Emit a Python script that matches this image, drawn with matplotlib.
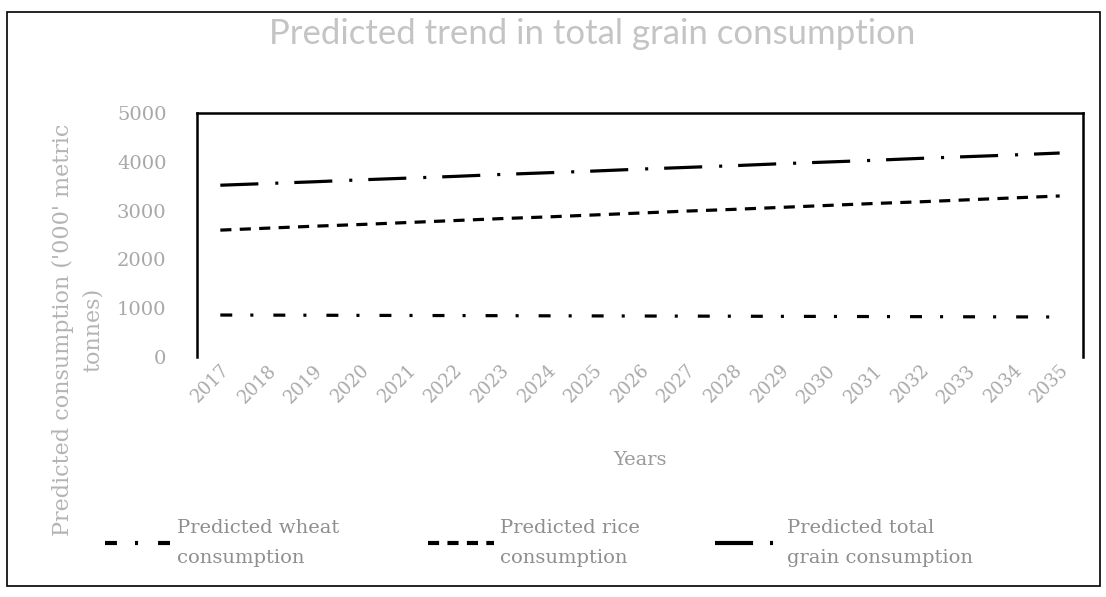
import numpy as np
import matplotlib.pyplot as plt
from matplotlib.lines import Line2D
from matplotlib.patches import Rectangle

plt.rcParams['lines.scale_dashes'] = False

# Projected consumption, '000 metric tonnes
years = [str(y) for y in range(2017, 2036)]
wheat = [860, 858, 856, 853, 851, 849, 847, 844, 842, 840,
         838, 836, 833, 831, 829, 827, 824, 822, 820]
rice = [2600, 2640, 2680, 2715, 2755, 2795, 2835, 2870, 2910, 2950,
        2990, 3025, 3065, 3105, 3145, 3180, 3220, 3260, 3300]
total = [3520, 3555, 3590, 3630, 3665, 3700, 3740, 3775, 3810, 3850,
         3885, 3920, 3960, 3995, 4030, 4070, 4105, 4140, 4180]
series_names = ['Predicted wheat\nconsumption',
                'Predicted rice\nconsumption',
                'Predicted total\ngrain consumption']
yticks = [0, 1000, 2000, 3000, 4000, 5000]

W, H = 1106, 597
fig = plt.figure(figsize=(W / 100, H / 100), dpi=100)

def box(l, t, r, b):
    return [l / W, 1 - b / H, (r - l) / W, (b - t) / H]

ax = fig.add_axes(box(197, 113, 1083, 357))

serif = 'DejaVu Serif'
grey = '#a8a8a8'

x = np.arange(len(years))
styles = [(0, (8.6, 13, 2.2, 14.4)),
          (0, (8, 6)),
          (0, (27.4, 12.2, 2.2, 11.5))]
for vals, ls in zip([wheat, rice, total], styles):
    ax.plot(x, vals, color='black', lw=2.3, linestyle=ls, solid_capstyle='butt')

ax.set_xlim(-0.5, len(years) - 0.5)
ax.set_ylim(0, 5000)
ax.set_yticks(yticks)
ax.set_yticklabels([str(v) for v in yticks], fontfamily=serif, fontsize=14, color=grey)
ax.set_xticks(x)
ax.set_xticklabels(years, rotation=45, ha='right', va='top', rotation_mode='anchor',
                   fontfamily=serif, fontsize=13, color=grey)
ax.tick_params(axis='both', length=0)
ax.tick_params(axis='y', pad=22)
ax.tick_params(axis='x', pad=3)
for side in ['left', 'right', 'top']:
    ax.spines[side].set_color('black')
    ax.spines[side].set_linewidth(1.8)
ax.spines['bottom'].set_visible(False)

fig.text(592 / W, 1 - 34 / H, 'Predicted trend in total grain consumption',
         ha='center', va='center', fontfamily='Lato', fontsize=25, color='#c4c4c4')
fig.text(640 / W, 1 - 460 / H, 'Years', ha='center', va='center',
         fontfamily=serif, fontsize=14, color='#9a9a9a')
fig.text(78 / W, 1 - 330 / H, "Predicted consumption ('000' metric\ntonnes)",
         ha='center', va='center', rotation=90, multialignment='center',
         fontfamily=serif, fontsize=16, color='#b4b4b4', linespacing=1.5)

# one legend entry per block, placed along the bottom
legend_x = [105, 428, 715]
for h_style, name, lx in zip(styles, series_names, legend_x):
    h = Line2D([], [], color='black', lw=3, linestyle=h_style)
    leg = fig.legend([h], [name], loc='center left',
                     bbox_to_anchor=(lx / W, 1 - 543 / H), frameon=False,
                     prop={'family': serif, 'size': 14}, handlelength=3.4,
                     handletextpad=0.3, borderpad=0, borderaxespad=0)
    for t in leg.get_texts():
        t.set_color('#8e8e8e')
        t.set_linespacing(1.9)

# outer frame of the chart
fig.patches.append(Rectangle((7 / W, 1 - 586 / H), 1093 / W, 574 / H,
                             transform=fig.transFigure, fill=False,
                             edgecolor='black', lw=1.2))

fig.savefig('out.png', dpi=100)
